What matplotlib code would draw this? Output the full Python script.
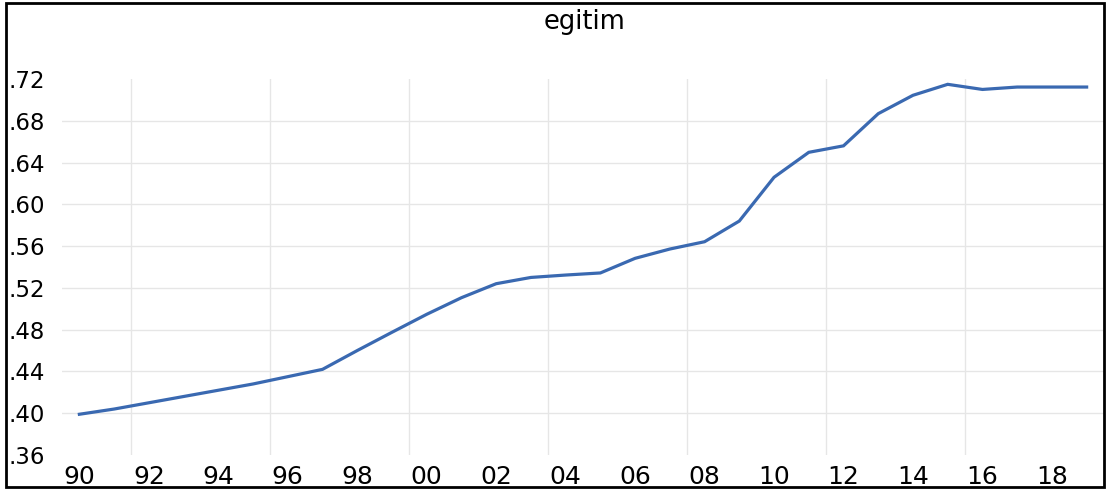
"""Wykres liniowy: egitim 1990-2019."""

import matplotlib

matplotlib.use("Agg")
import matplotlib.pyplot as plt
from matplotlib.patches import Rectangle

years = list(range(1990, 2020))
egitim = [
    0.399, 0.404, 0.410, 0.416, 0.422, 0.428, 0.435, 0.442, 0.460, 0.4775,
    0.4947, 0.5106, 0.524, 0.530, 0.5323, 0.5343, 0.5483, 0.5572, 0.5642, 0.584,
    0.6259, 0.6498, 0.656, 0.6868, 0.7044, 0.7149, 0.710, 0.7123, 0.7123, 0.7123,
]

x_ticks = list(range(1990, 2019, 2))
x_labels = [f"{y % 100:02d}" for y in x_ticks]
x_grid = [1991.5, 1995.5, 1999.5, 2003.5, 2007.5, 2011.5, 2015.5]
y_ticks = [0.36, 0.40, 0.44, 0.48, 0.52, 0.56, 0.60, 0.64, 0.68, 0.72]
y_labels = [f"{v:.2f}"[1:] for v in y_ticks]

fig = plt.figure(figsize=(11.08, 4.90), dpi=100)
ax = fig.add_axes([62 / 1108, 35 / 490, 1042 / 1108, 376 / 490])

ax.plot(years, egitim, color="#3A69B1", linewidth=2.3, solid_joinstyle="miter")

ax.set_xlim(1989.5, 2019.5)
ax.set_ylim(0.36, 0.72)
ax.set_xticks(x_ticks)
ax.set_xticklabels(x_labels, fontsize=18)
ax.set_xticks(x_grid, minor=True)
ax.set_yticks(y_ticks)
ax.set_yticklabels(y_labels, fontsize=16.5)

ax.tick_params(axis="both", which="both", length=0)
ax.tick_params(axis="x", pad=7)
ax.tick_params(axis="y", pad=12)
ax.xaxis.grid(True, which="minor", color="#E6E6E6", linewidth=1.0)
ax.yaxis.grid(True, which="major", color="#E6E6E6", linewidth=1.0)
gl = ax.get_ygridlines()
gl[0].set_visible(False)
gl[-1].set_visible(False)
ax.set_axisbelow(True)
for s in ax.spines.values():
    s.set_visible(False)

fig.text(585 / 1108, 1 - 22 / 490, "egitim", ha="center", va="center", fontsize=18.5)

fig.patches.append(
    Rectangle((6 / 1108, 3 / 490), 1098 / 1108, 484 / 490, transform=fig.transFigure,
              fill=False, edgecolor="black", linewidth=2.0)
)

fig.savefig("out.png", dpi=100)
